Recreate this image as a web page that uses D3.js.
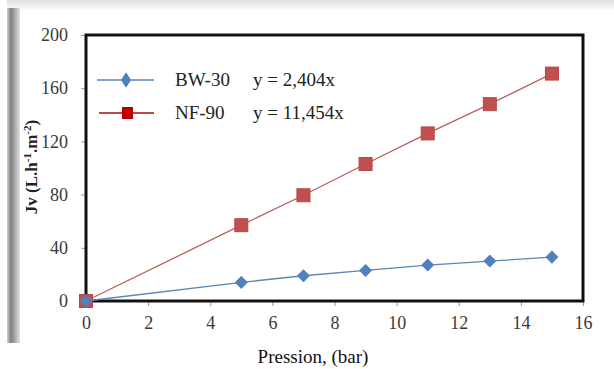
<!DOCTYPE html>
<html>
<head>
<meta charset="utf-8">
<script src="https://cdn.jsdelivr.net/npm/d3@7"></script>
<style>
  body { margin: 0; background: #fff; }
  svg { display: block; font-family: "Liberation Serif", "Times New Roman", serif; }
</style>
</head>
<body>
<div id="chart"></div>
<script>
// pressure (bar)
var pressure = [0, 5, 7, 9, 11, 13, 15];
// flux Jv
var bw30 = [0, 14, 19, 23, 27, 30, 33];
var nf90 = [0, 57, 79.5, 103, 126, 148, 171];
var seriesNames = ["BW-30", "NF-90"];
var equations = ["y = 2,404x", "y = 11,454x"];
var xTicks = [0, 2, 4, 6, 8, 10, 12, 14, 16];
var yTicks = [0, 40, 80, 120, 160, 200];

var W = 614, H = 369;
var margin = {left: 86, right: 31, top: 35, bottom: 68};

var svg = d3.select("#chart").append("svg")
  .attr("width", W)
  .attr("height", H);

// grey shading along top and left edges
var defs = svg.append("defs");
var gLeft = defs.append("linearGradient").attr("id", "gl");
gLeft.append("stop").attr("offset", "0%").attr("stop-color", "#d0d0d0");
gLeft.append("stop").attr("offset", "30%").attr("stop-color", "#7e7e7e");
gLeft.append("stop").attr("offset", "100%").attr("stop-color", "#e2e2e2");
var gTop = defs.append("linearGradient").attr("id", "gt")
  .attr("x1", 0).attr("y1", 0).attr("x2", 0).attr("y2", 1);
gTop.append("stop").attr("offset", "0%").attr("stop-color", "#e0e0e0");
gTop.append("stop").attr("offset", "100%").attr("stop-color", "#fbfbfb");

svg.append("rect").attr("x", 7).attr("y", 0).attr("width", W - 7).attr("height", 10)
  .attr("fill", "url(#gt)");
svg.append("rect").attr("x", 7).attr("y", 8).attr("width", 13).attr("height", 335)
  .attr("fill", "url(#gl)");

var x = d3.scaleLinear().domain([0, 16]).range([margin.left, W - margin.right]);
var y = d3.scaleLinear().domain([0, 200]).range([H - margin.bottom, margin.top]);

// axes
var xAxis = svg.append("g")
  .attr("transform", "translate(0," + y(0) + ")")
  .call(d3.axisBottom(x).tickValues(xTicks).tickSize(5).tickPadding(10));
var yAxis = svg.append("g")
  .attr("transform", "translate(" + x(0) + ",0)")
  .call(d3.axisLeft(y).tickValues(yTicks).tickSize(5).tickPadding(13));

[xAxis, yAxis].forEach(function (a) {
  a.attr("font-family", null);
  a.select(".domain").remove();
  a.selectAll("line").attr("stroke", "#9a9a9a");
  a.selectAll("text")
    .attr("fill", "#3a3a3a")
    .style("font-size", "18px");
});

// plot frame
svg.append("rect")
  .attr("x", x(0)).attr("y", y(200))
  .attr("width", x(16) - x(0)).attr("height", y(0) - y(200))
  .attr("fill", "none").attr("stroke", "#111").attr("stroke-width", 3);

var line = d3.line()
  .x(function (d) { return x(d[0]); })
  .y(function (d) { return y(d[1]); });

var nfData = pressure.map(function (p, i) { return [p, nf90[i]]; });
var bwData = pressure.map(function (p, i) { return [p, bw30[i]]; });

svg.append("path").datum(nfData).attr("d", line)
  .attr("fill", "none").attr("stroke", "#b9605c").attr("stroke-width", 1.3);
svg.append("path").datum(bwData).attr("d", line)
  .attr("fill", "none").attr("stroke", "#5b86b8").attr("stroke-width", 1.3);

var sq = 13;
svg.selectAll(".sq").data(nfData).enter().append("rect")
  .attr("class", "sq")
  .attr("x", function (d) { return x(d[0]) - sq / 2; })
  .attr("y", function (d) { return y(d[1]) - sq / 2; })
  .attr("width", sq).attr("height", sq)
  .attr("fill", "#c0504d").attr("stroke", "#b04a47").attr("stroke-width", 1);

svg.selectAll(".dm").data(bwData).enter().append("path")
  .attr("class", "dm")
  .attr("transform", function (d) { return "translate(" + x(d[0]) + "," + y(d[1]) + ") rotate(45)"; })
  .attr("d", d3.symbol().type(d3.symbolSquare).size(85))
  .attr("fill", "#4f81bd");

// legend
var legend = svg.append("g");
var rows = [
  {name: seriesNames[0], eq: equations[0], y: 80, color: "#5b86b8"},
  {name: seriesNames[1], eq: equations[1], y: 113, color: "#a01010"}
];
rows.forEach(function (r, i) {
  legend.append("line")
    .attr("x1", 97 + i * 2).attr("x2", 154).attr("y1", r.y).attr("y2", r.y)
    .attr("stroke", r.color).attr("stroke-width", 1.5);
  if (i === 0) {
    legend.append("path")
      .attr("transform", "translate(126," + r.y + ") scale(0.75,1.15) rotate(45)")
      .attr("d", d3.symbol().type(d3.symbolSquare).size(90))
      .attr("fill", "#4f81bd");
  } else {
    legend.append("rect")
      .attr("x", 122).attr("y", r.y - 6).attr("width", 11).attr("height", 12)
      .attr("fill", "#c00000");
  }
  legend.append("text").attr("x", 175).attr("y", r.y + 6)
    .style("font-size", "19px").attr("fill", "#222").text(r.name);
  legend.append("text").attr("x", 253).attr("y", r.y + 6)
    .style("font-size", "19px").attr("fill", "#222").text(r.eq);
});

// axis titles
svg.append("text")
  .attr("x", 313).attr("y", 363)
  .attr("text-anchor", "middle")
  .style("font-size", "19px").attr("fill", "#111")
  .text("Pression, (bar)");

var yt = svg.append("text")
  .attr("transform", "translate(37,167) rotate(-90)")
  .attr("text-anchor", "middle")
  .style("font-size", "17px").style("font-weight", "bold").attr("fill", "#222");
yt.append("tspan").text("Jv (L.h");
yt.append("tspan").attr("dy", -6).style("font-size", "11px").text("-1");
yt.append("tspan").attr("dy", 6).text(".m");
yt.append("tspan").attr("dy", -6).style("font-size", "11px").text("-2");
yt.append("tspan").attr("dy", 6).text(")");
</script>
</body>
</html>
